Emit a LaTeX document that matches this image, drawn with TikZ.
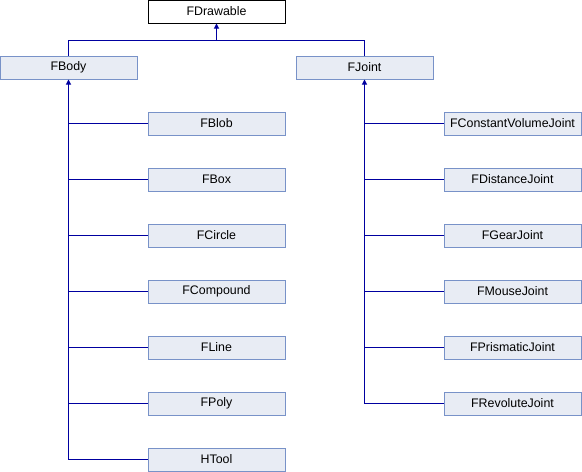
\documentclass[tikz,border=0pt]{standalone}
\usepackage{fontspec}
\setmainfont{Liberation Sans}
\usetikzlibrary{arrows.meta}
\begin{document}
\begin{tikzpicture}[x=1pt,y=-1pt,
  cls/.style={draw=boxborder,fill=boxfill,line width=1pt,minimum width=137pt,minimum height=23pt,inner sep=0pt,font=\fontsize{12.4}{14}\selectfont},
  top/.style={cls,draw=black,fill=white},
  link/.style={draw=linkblue,line width=1pt},
  inh/.style={link,-{Triangle[width=5pt,length=5pt]}}]
\definecolor{boxfill}{RGB}{232,236,244}
\definecolor{boxborder}{RGB}{120,146,200}
\definecolor{linkblue}{RGB}{0,0,160}
\useasboundingbox (0,0) rectangle (582,472);
\node[top] (fd) at (216.5,11.5) {FDrawable};
\node[cls] (fb) at (68.5,67.5) {FBody};
\node[cls] (fj) at (364.5,67.5) {FJoint};
\coordinate (jl) at (68.5,40);
\coordinate (jr) at (364.5,40);
\coordinate (jm) at (216.5,40);
\draw[link] (fb.north) -- (jl) -- (jr) -- (fj.north);
\draw[inh] (jm) -- (fd.south);
\foreach \n/\t [count=\i] in {a/FBlob,b/FBox,c/FCircle,d/FCompound,e/FLine,f/FPoly,g/HTool}{
  \node[cls] (L\n) at (216.5,{123.5+56*(\i-1)}) {\t};
  \coordinate (lc\n) at (68.5,{123.5+56*(\i-1)});
  \draw[link] (lc\n) -- (L\n.west);
}
\foreach \n/\t [count=\i] in {a/FConstantVolumeJoint,b/FDistanceJoint,c/FGearJoint,d/FMouseJoint,e/FPrismaticJoint,f/FRevoluteJoint}{
  \node[cls] (R\n) at (512.5,{123.5+56*(\i-1)}) {\t};
  \coordinate (rc\n) at (364.5,{123.5+56*(\i-1)});
  \draw[link] (rc\n) -- (R\n.west);
}
\draw[inh] (lcg) -- (fb.south);
\draw[inh] (rcf) -- (fj.south);
\end{tikzpicture}
\end{document}
